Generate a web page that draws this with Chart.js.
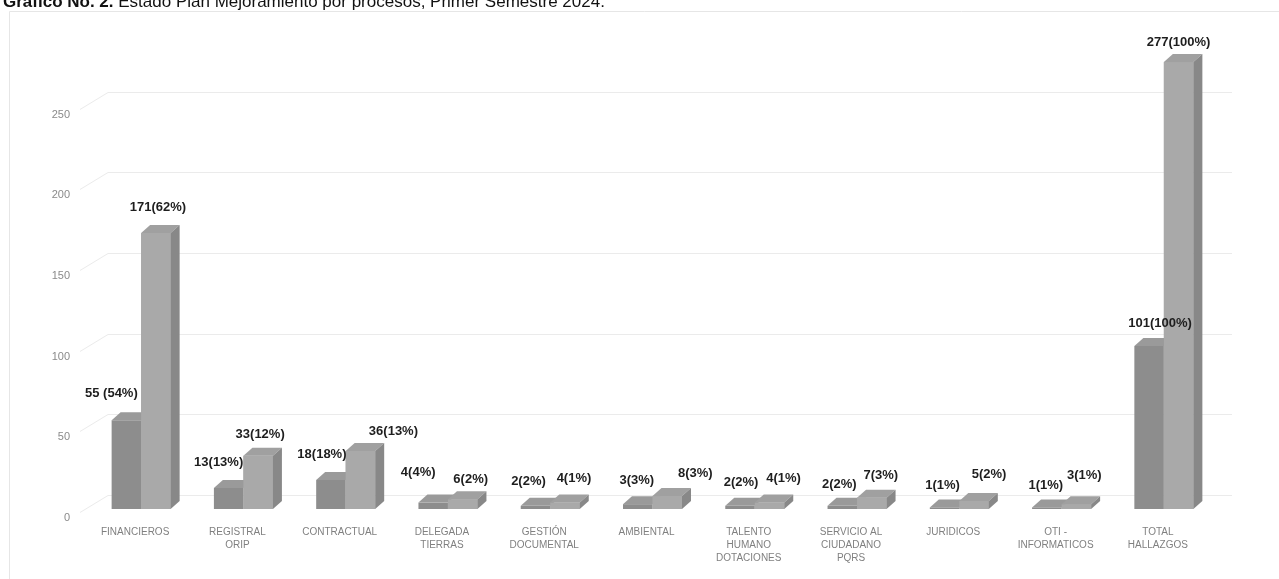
<!DOCTYPE html>
<html><head><meta charset="utf-8">
<script src="https://cdn.jsdelivr.net/npm/chart.js@4.4.1/dist/chart.umd.min.js"></script>
<style>html,body{margin:0;padding:0;background:#fff;overflow:hidden}canvas{display:block}</style>
</head><body>
<canvas id="c" width="1279" height="579"></canvas>
<script>
// ---- data ----
const categories = [["FINANCIEROS"],["REGISTRAL","ORIP"],["CONTRACTUAL"],["DELEGADA","TIERRAS"],["GESTIÓN","DOCUMENTAL"],["AMBIENTAL"],["TALENTO","HUMANO","DOTACIONES"],["SERVICIO AL","CIUDADANO","PQRS"],["JURIDICOS"],["OTI -","INFORMATICOS"],["TOTAL","HALLAZGOS"]];
const seriesA = [55,13,18,4,2,3,2,2,1,1,101];
const seriesB = [171,33,36,6,4,8,4,7,5,3,277];
const labelsA = ["55 (54%)","13(13%)","18(18%)","4(4%)","2(2%)","3(3%)","2(2%)","2(2%)","1(1%)","1(1%)","101(100%)"];
const labelsB = ["171(62%)","33(12%)","36(13%)","6(2%)","4(1%)","8(3%)","4(1%)","7(3%)","5(2%)","3(1%)","277(100%)"];
const yTicks = [0,50,100,150,200,250];
const titleBold = "Gráfico No. 2.";
const titleRest = " Estado Plan Mejoramiento por procesos, Primer Semestre 2024.";

// ---- styling / label nudges (relative to each bar's top centre) ----
const nudgeA = [[-15,-27],[-10,-26],[-9,-26],[-15,-30],[-7,-24],[-1,-24],[1,-23],[-3,-21],[-2,-22],[-1,-22],[11,-23]];
const nudgeB = [[2,-26],[2,-21],[33,-19],[8,-20],[9,-24],[28,-23],[14,-24],[9,-22],[15,-27],[8,-29],[0,-20]];
const DX = 9, DY = 8, WALL = 14;
const colA = {front:'#8d8d8d', top:'#9a9a9a'};
const colB = {front:'#a9a9a9', top:'#a0a0a0', side:'#888888'};

const threeD = {
  id:'threeD',
  beforeDraw(chart){
    const ctx = chart.ctx;
    ctx.save();
    ctx.fillStyle='#fff'; ctx.fillRect(0,0,chart.width,chart.height);
    ctx.strokeStyle='#e6e6e6'; ctx.lineWidth=1;
    ctx.beginPath(); ctx.moveTo(9.5,579); ctx.lineTo(9.5,11.5); ctx.lineTo(1279,11.5); ctx.stroke();
    ctx.fillStyle='#111'; ctx.textBaseline='alphabetic';
    ctx.font='bold 17px "Liberation Sans", Arial, sans-serif';
    ctx.fillText(titleBold,3,7);
    const w = ctx.measureText(titleBold).width;
    ctx.font='17px "Liberation Sans", Arial, sans-serif';
    ctx.fillText(titleRest,3+w,7);
    ctx.restore();
  },
  beforeDatasetsDraw(chart){
    const ctx = chart.ctx, y = chart.scales.y, area = chart.chartArea;
    ctx.save();
    ctx.strokeStyle='#ebebeb'; ctx.lineWidth=1;
    yTicks.forEach(v=>{
      const yw = Math.round(y.getPixelForValue(v)-WALL)+0.5;
      ctx.beginPath();
      ctx.moveTo(80, yw+17); ctx.lineTo(108, yw); ctx.lineTo(area.right+17, yw);
      ctx.stroke();
    });
    ctx.restore();
  },
  afterDatasetsDraw(chart){
    const ctx = chart.ctx;
    const mA = chart.getDatasetMeta(0).data, mB = chart.getDatasetMeta(1).data;
    ctx.save();
    for (let i=0;i<mA.length;i++){
      const a = mA[i], b = mB[i];
      const aw = a.width, bw = b.width;
      const aL = a.x-aw/2, aR = a.x+aw/2;
      ctx.fillStyle=colA.top;
      ctx.beginPath(); ctx.moveTo(aL,a.y); ctx.lineTo(aR,a.y); ctx.lineTo(aR+DX,a.y-DY); ctx.lineTo(aL+DX,a.y-DY); ctx.closePath(); ctx.fill();
      const bL = b.x-bw/2, bR = b.x+bw/2;
      ctx.fillStyle=colB.front; ctx.fillRect(bL,b.y,bw,b.base-b.y);
      ctx.fillStyle=colB.top;
      ctx.beginPath(); ctx.moveTo(bL,b.y); ctx.lineTo(bR,b.y); ctx.lineTo(bR+DX,b.y-DY); ctx.lineTo(bL+DX,b.y-DY); ctx.closePath(); ctx.fill();
      ctx.fillStyle=colB.side;
      ctx.beginPath(); ctx.moveTo(bR,b.y); ctx.lineTo(bR+DX,b.y-DY); ctx.lineTo(bR+DX,b.base-DY); ctx.lineTo(bR,b.base); ctx.closePath(); ctx.fill();
    }
    ctx.font='bold 13px "Liberation Sans", Arial, sans-serif';
    ctx.fillStyle='#1e1e1e'; ctx.textAlign='center'; ctx.textBaseline='middle';
    for (let i=0;i<mA.length;i++){
      const a = mA[i], b = mB[i];
      ctx.fillText(labelsA[i], a.x+nudgeA[i][0], a.y+nudgeA[i][1]);
      ctx.fillText(labelsB[i], b.x+nudgeB[i][0], b.y+nudgeB[i][1]);
    }
    ctx.restore();
  }
};

new Chart(document.getElementById('c'), {
  type:'bar',
  data:{
    labels: categories,
    datasets:[
      {label:'A', data:seriesA, backgroundColor:colA.front, borderWidth:0, categoryPercentage:0.577, barPercentage:1},
      {label:'B', data:seriesB, backgroundColor:colB.front, borderWidth:0, categoryPercentage:0.577, barPercentage:1}
    ]
  },
  options:{
    responsive:false, animation:false,
    layout:{padding:{left:0,right:64,top:25,bottom:0}},
    plugins:{legend:{display:false}, tooltip:{enabled:false}, title:{display:false}},
    scales:{
      x:{
        grid:{display:false}, border:{display:false},
        ticks:{color:'#808080', font:{family:'"Liberation Sans", Arial, sans-serif', size:10, lineHeight:1.3}, padding:9, labelOffset:-6, maxRotation:0, autoSkip:false},
        afterFit(s){ s.height = 70; }
      },
      y:{
        min:0, max:300,
        grid:{display:false}, border:{display:false},
        afterBuildTicks(s){ s.ticks = yTicks.map(v=>({value:v})); },
        ticks:{color:'#8a8a8a', font:{family:'"Liberation Sans", Arial, sans-serif', size:11}, padding:12, labelOffset:9},
        afterFit(s){ s.width = 90; }
      }
    }
  },
  plugins:[threeD]
});
</script>
</body></html>
